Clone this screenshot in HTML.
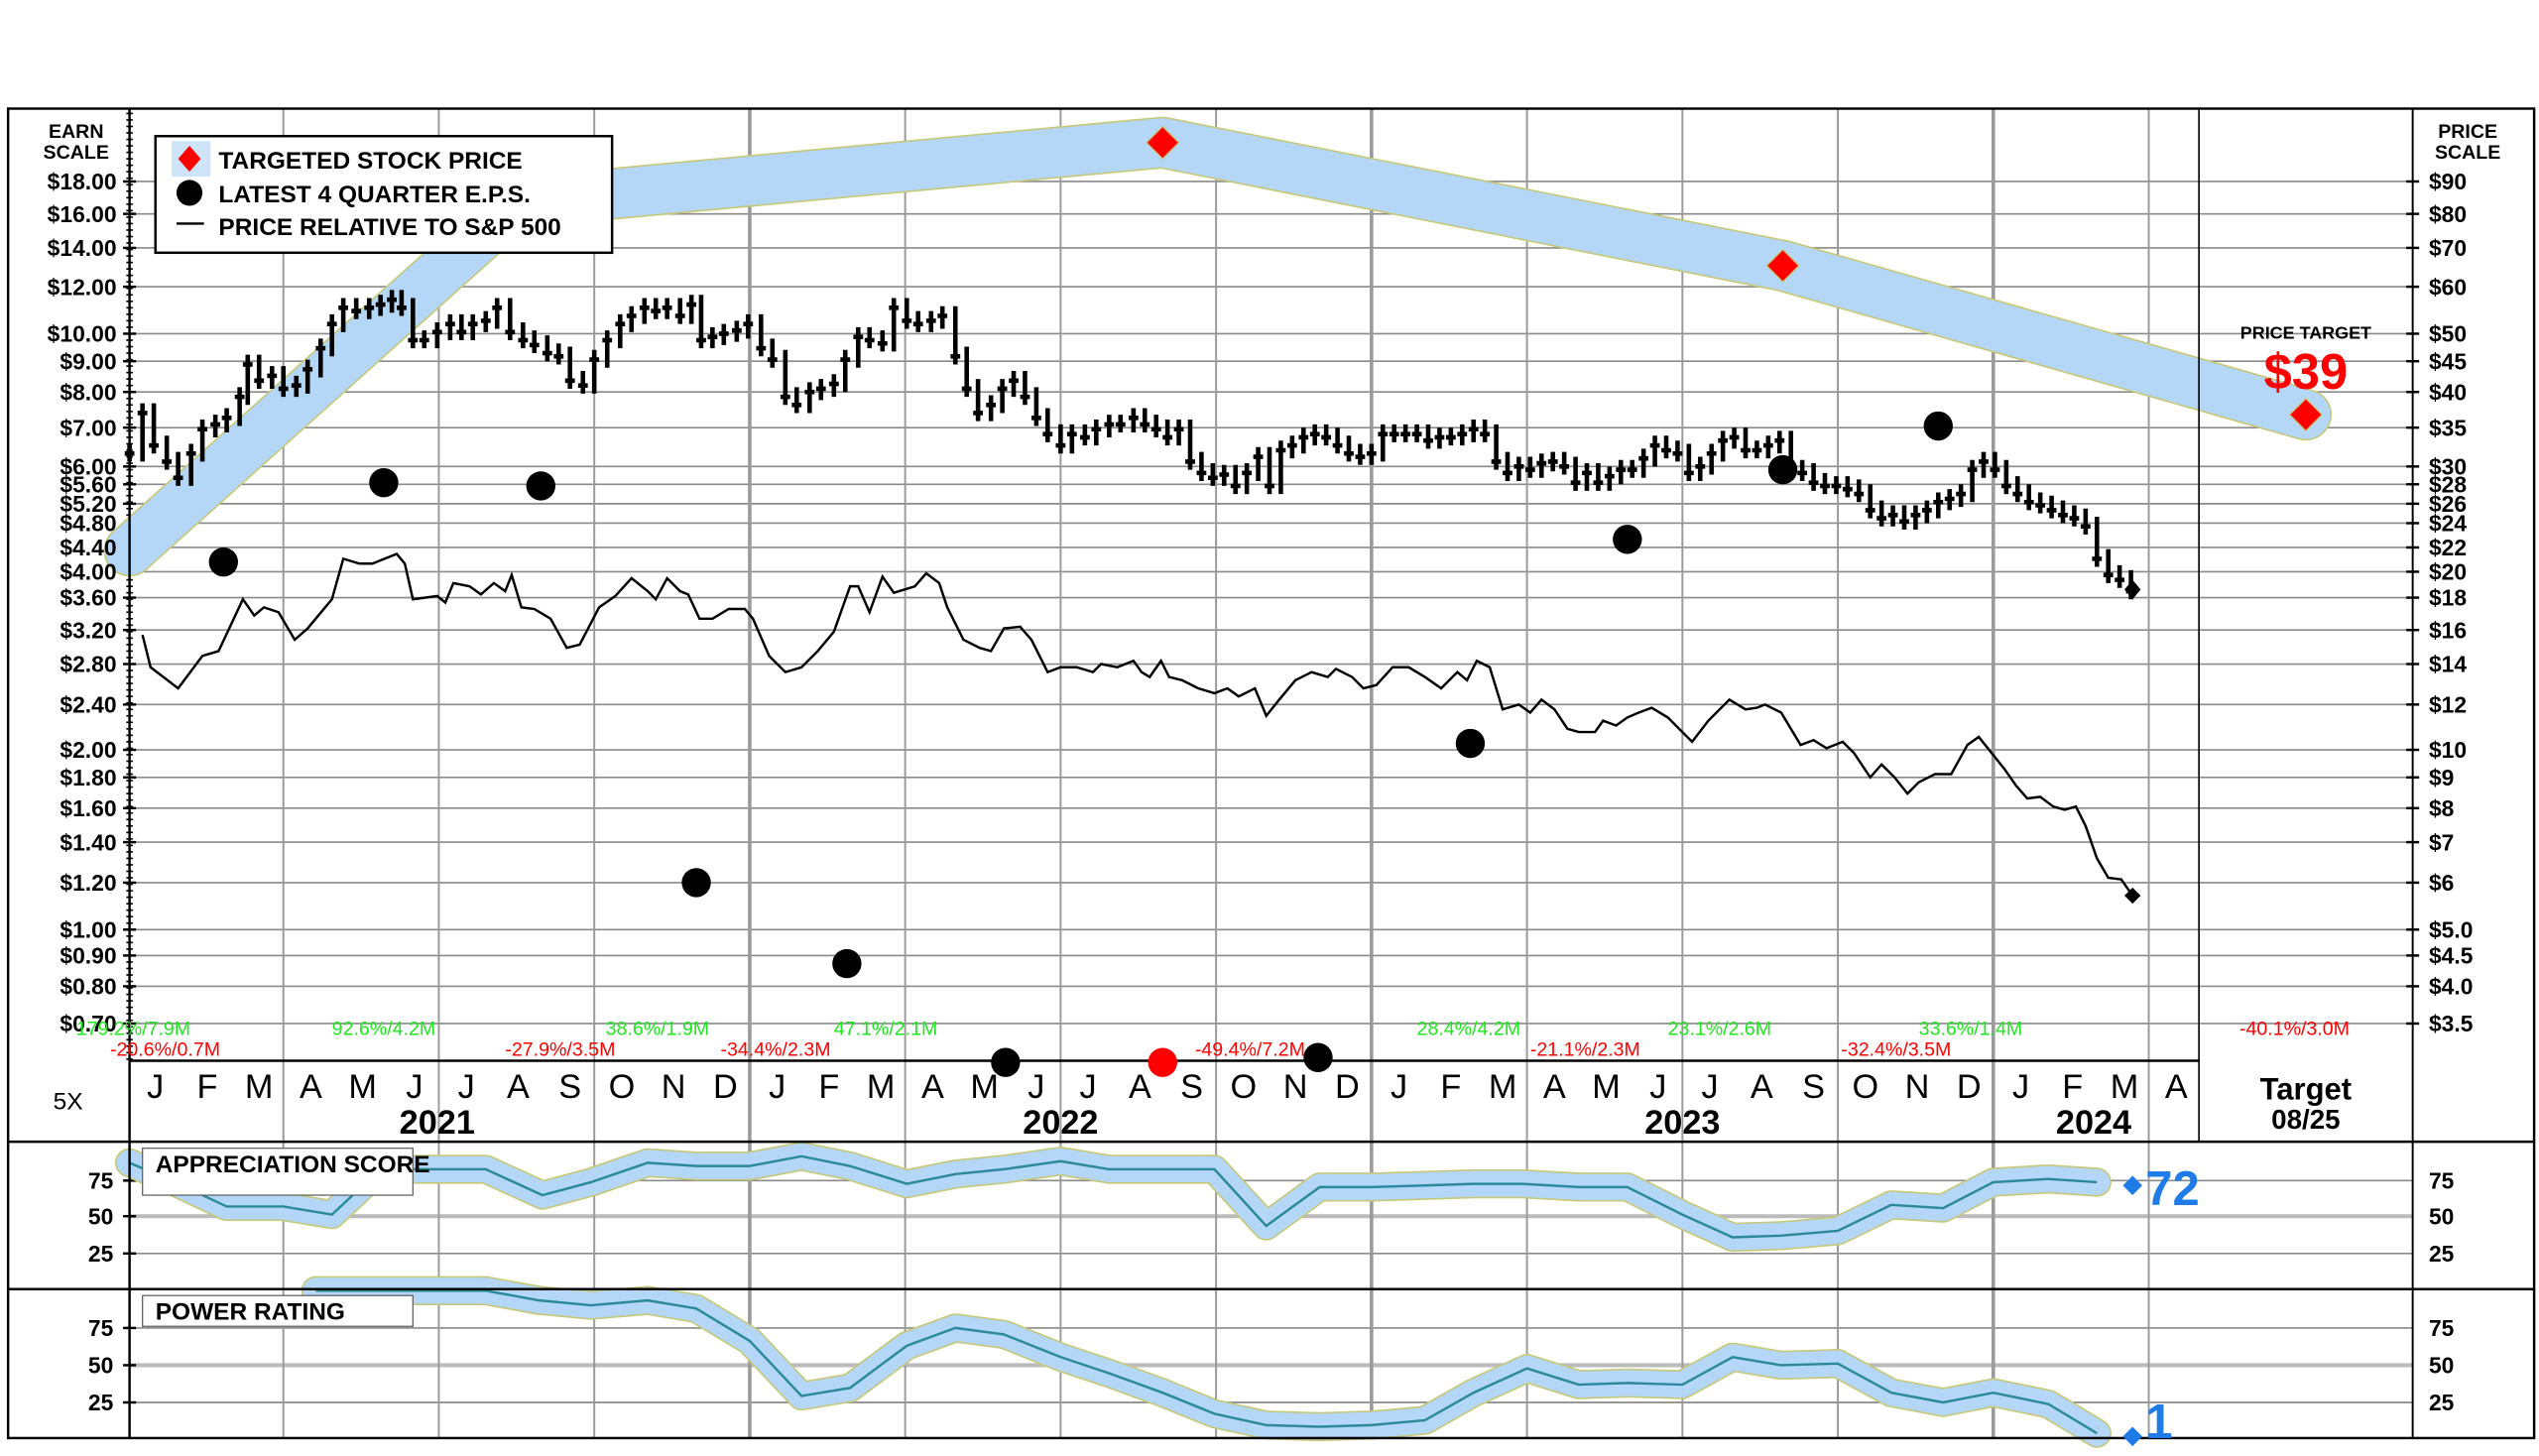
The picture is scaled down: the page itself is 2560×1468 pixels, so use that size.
<!DOCTYPE html>
<html><head><meta charset="utf-8"><style>
html,body{margin:0;padding:0;background:#fff}
svg{display:block}
text{font-family:"Liberation Sans",Arial,sans-serif}
.l{font-size:14px;font-weight:bold;text-anchor:end}
.r{font-size:14px;font-weight:bold;text-anchor:start}
.m{font-size:21px;text-anchor:middle}
.y{font-size:21px;font-weight:bold;text-anchor:middle}
.g{font-size:12px;fill:#1ee81e}
.rd{font-size:12px;fill:#f00}
</style></head><body>
<svg id="s" width="2560" height="1468" viewBox="0 0 1568 899" xmlns="http://www.w3.org/2000/svg">
<rect x="0" y="0" width="1568" height="899" fill="#fff"/>
<g id="grid"></g>
<g id="band"></g>
<g id="series"></g>
<rect x="5" y="67" width="1560" height="821" fill="none" stroke="#000" stroke-width="1.5"/>
<line x1="80" y1="67" x2="80" y2="888" stroke="#000" stroke-width="1.5"/>
<line x1="1490" y1="67" x2="1490" y2="888" stroke="#000" stroke-width="1.2"/>
<line x1="1358" y1="67" x2="1358" y2="705" stroke="#000" stroke-width="1"/>
<line x1="80" y1="655" x2="1358" y2="655" stroke="#000" stroke-width="1.5"/>
<line x1="5" y1="705" x2="1565" y2="705" stroke="#000" stroke-width="1.5"/>
<line x1="5" y1="796" x2="1565" y2="796" stroke="#000" stroke-width="1.5"/>

<text x="47" y="85" font-size="12" font-weight="bold" text-anchor="middle">EARN</text>
<text x="47" y="98" font-size="12" font-weight="bold" text-anchor="middle">SCALE</text>
<text x="1524" y="85" font-size="12" font-weight="bold" text-anchor="middle">PRICE</text>
<text x="1524" y="98" font-size="12" font-weight="bold" text-anchor="middle">SCALE</text>

<g class="l">
<text x="72" y="117">$18.00</text><text x="72" y="137">$16.00</text><text x="72" y="158">$14.00</text>
<text x="72" y="182">$12.00</text><text x="72" y="211">$10.00</text><text x="72" y="228">$9.00</text>
<text x="72" y="247">$8.00</text><text x="72" y="269">$7.00</text><text x="72" y="293">$6.00</text>
<text x="72" y="304">$5.60</text><text x="72" y="316">$5.20</text><text x="72" y="328">$4.80</text>
<text x="72" y="343">$4.40</text><text x="72" y="358">$4.00</text><text x="72" y="374">$3.60</text>
<text x="72" y="394">$3.20</text><text x="72" y="415">$2.80</text><text x="72" y="440">$2.40</text>
<text x="72" y="468">$2.00</text><text x="72" y="485">$1.80</text><text x="72" y="504">$1.60</text>
<text x="72" y="525">$1.40</text><text x="72" y="550">$1.20</text><text x="72" y="579">$1.00</text>
<text x="72" y="595">$0.90</text><text x="72" y="614">$0.80</text><text x="72" y="637">$0.70</text>
</g>
<g class="r">
<text x="1500" y="117">$90</text><text x="1500" y="137">$80</text><text x="1500" y="158">$70</text>
<text x="1500" y="182">$60</text><text x="1500" y="211">$50</text><text x="1500" y="228">$45</text>
<text x="1500" y="247">$40</text><text x="1500" y="269">$35</text><text x="1500" y="293">$30</text>
<text x="1500" y="304">$28</text><text x="1500" y="316">$26</text><text x="1500" y="328">$24</text>
<text x="1500" y="343">$22</text><text x="1500" y="358">$20</text><text x="1500" y="374">$18</text>
<text x="1500" y="394">$16</text><text x="1500" y="415">$14</text><text x="1500" y="440">$12</text>
<text x="1500" y="468">$10</text><text x="1500" y="485">$9</text><text x="1500" y="504">$8</text>
<text x="1500" y="525">$7</text><text x="1500" y="550">$6</text><text x="1500" y="579">$5.0</text>
<text x="1500" y="595">$4.5</text><text x="1500" y="614">$4.0</text><text x="1500" y="637">$3.5</text>
</g>

<g class="g">
<text x="47" y="639">179.2%/7.9M</text><text x="205" y="639">92.6%/4.2M</text><text x="374" y="639">38.6%/1.9M</text>
<text x="515" y="639">47.1%/2.1M</text><text x="875" y="639">28.4%/4.2M</text><text x="1030" y="639">23.1%/2.6M</text>
<text x="1185" y="639">33.6%/1.4M</text>
</g>
<g class="rd">
<text x="68" y="652">-20.6%/0.7M</text><text x="312" y="652">-27.9%/3.5M</text><text x="445" y="652">-34.4%/2.3M</text>
<text x="738" y="652">-49.4%/7.2M</text><text x="945" y="652">-21.1%/2.3M</text><text x="1137" y="652">-32.4%/3.5M</text>
<text x="1383" y="639">-40.1%/3.0M</text>
</g>

<g class="m">
<text x="96" y="678">J</text><text x="128" y="678">F</text><text x="160" y="678">M</text><text x="192" y="678">A</text>
<text x="224" y="678">M</text><text x="256" y="678">J</text><text x="288" y="678">J</text><text x="320" y="678">A</text>
<text x="352" y="678">S</text><text x="384" y="678">O</text><text x="416" y="678">N</text><text x="448" y="678">D</text>
<text x="480" y="678">J</text><text x="512" y="678">F</text><text x="544" y="678">M</text><text x="576" y="678">A</text>
<text x="608" y="678">M</text><text x="640" y="678">J</text><text x="672" y="678">J</text><text x="704" y="678">A</text>
<text x="736" y="678">S</text><text x="768" y="678">O</text><text x="800" y="678">N</text><text x="832" y="678">D</text>
<text x="864" y="678">J</text><text x="896" y="678">F</text><text x="928" y="678">M</text><text x="960" y="678">A</text>
<text x="992" y="678">M</text><text x="1024" y="678">J</text><text x="1056" y="678">J</text><text x="1088" y="678">A</text>
<text x="1120" y="678">S</text><text x="1152" y="678">O</text><text x="1184" y="678">N</text><text x="1216" y="678">D</text>
<text x="1248" y="678">J</text><text x="1280" y="678">F</text><text x="1312" y="678">M</text><text x="1344" y="678">A</text>
</g>
<g class="y">
<text x="270" y="700">2021</text><text x="655" y="700">2022</text><text x="1039" y="700">2023</text><text x="1293" y="700">2024</text>
</g>
<text x="1424" y="679" font-size="19" font-weight="bold" text-anchor="middle">Target</text>
<text x="1424" y="697" font-size="17" font-weight="bold" text-anchor="middle">08/25</text>
<text x="42" y="685" font-size="15" text-anchor="middle">5X</text>

<g font-size="14" font-weight="bold">
<text x="70" y="734" text-anchor="end">75</text><text x="70" y="756" text-anchor="end">50</text><text x="70" y="779" text-anchor="end">25</text>
<text x="70" y="825" text-anchor="end">75</text><text x="70" y="848" text-anchor="end">50</text><text x="70" y="871" text-anchor="end">25</text>
<text x="1500" y="734">75</text><text x="1500" y="756">50</text><text x="1500" y="779">25</text>
<text x="1500" y="825">75</text><text x="1500" y="848">50</text><text x="1500" y="871">25</text>
</g>

<g id="top"></g>

<rect x="88" y="709" width="167" height="29" fill="#fff" stroke="#666" stroke-width="0.8"/>
<text x="96" y="724" font-size="15" font-weight="bold">APPRECIATION SCORE</text>
<rect x="88" y="800" width="167" height="19" fill="#fff" stroke="#666" stroke-width="0.8"/>
<text x="96" y="815" font-size="15" font-weight="bold">POWER RATING</text>
<path d="M1317 726 L1323 732 L1317 738 L1311 732Z" fill="#1e7be8"/>
<text x="1325" y="744" font-size="30" font-weight="bold" fill="#1e7be8">72</text>
<path d="M1317 881 L1323 887 L1317 893 L1311 887Z" fill="#1e7be8"/>
<text x="1325" y="888" font-size="30" font-weight="bold" fill="#1e7be8">1</text>

<text x="1424" y="209" font-size="11" font-weight="bold" text-anchor="middle">PRICE TARGET</text>
<text x="1424" y="240" font-size="31" font-weight="bold" fill="#f00" text-anchor="middle">$39</text>

<rect x="96" y="84" width="282" height="72" fill="#fff" stroke="#000" stroke-width="1.5"/>
<rect x="106" y="87" width="24" height="22" fill="#cfe4f8"/>
<path d="M117 90 L124 98 L117 106 L110 98Z" fill="#f00"/>
<circle cx="117" cy="119" r="8" fill="#000"/>
<line x1="109" y1="138" x2="126" y2="138" stroke="#000" stroke-width="1.5"/>
<g font-size="15" font-weight="bold"><text x="135" y="104">TARGETED STOCK PRICE</text>
<text x="135" y="125">LATEST 4 QUARTER E.P.S.</text>
<text x="135" y="145">PRICE RELATIVE TO S&amp;P 500</text></g>
</svg>
<script>
const NS="http://www.w3.org/2000/svg";
function el(p,t,a){const e=document.createElementNS(NS,t);for(const k in a)e.setAttribute(k,a[k]);p.appendChild(e);return e;}
const G=document.getElementById('grid'),B=document.getElementById('band'),S=document.getElementById('series'),T=document.getElementById('top');
const hy=[112,132,153,177,206,223,242,264,288,299,311,323,338,353,369,389,410,435,463,480,499,520,545,574,590,609,632];
hy.forEach(y=>{el(G,'line',{x1:80,y1:y,x2:1490,y2:y,stroke:'#8a8a8a','stroke-width':1});
 el(G,'line',{x1:76,y1:y,x2:84,y2:y,stroke:'#000','stroke-width':1.5});el(G,'line',{x1:1486,y1:y,x2:1494,y2:y,stroke:'#000','stroke-width':1.5});});
for(let y=70;y<655;y+=4){el(G,'line',{x1:78,y1:y,x2:82,y2:y,stroke:'#000','stroke-width':1});}
[729,751,774,820,843,866].forEach((y,i)=>{el(G,'line',{x1:80,y1:y,x2:1490,y2:y,stroke:(i%3==1)?'#bbb':'#8a8a8a','stroke-width':(i%3==1)?2.5:1});
 el(G,'line',{x1:76,y1:y,x2:84,y2:y,stroke:'#000','stroke-width':1.5});});
[175,271,367,463,559,655,751,847,943,1039,1135,1231,1327].forEach(x=>{
 const w=(x==463||x==847||x==1231)?2.2:1.2;
 el(G,'line',{x1:x,y1:67,x2:x,y2:888,stroke:'#9a9a9a','stroke-width':w});});
function band(pts,w,par){const d=pts.map((p,i)=>(i?'L':'M')+p[0]+' '+p[1]).join(' ');
 el(par,'path',{d:d,fill:'none',stroke:'#c8c87a','stroke-width':w+2,'stroke-linejoin':'round','stroke-linecap':'round'});
 el(par,'path',{d:d,fill:'none',stroke:'#b4d7f7','stroke-width':w,'stroke-linejoin':'round','stroke-linecap':'round'});return d;}
band([[80,340],[320,125],[718,88],[1101,164],[1424,256]],30,B);
const ap=[[80,718],[108,730],[140,745],[175,745],[205,750],[235,722],[265,722],[300,722],[335,738],[365,730],[400,718],[430,720],[463,720],[495,714],[525,720],[560,731],[590,725],[620,722],[655,717],[685,722],[718,722],[750,722],[782,757],[815,733],[847,733],[880,732],[910,731],[940,731],[975,733],[1005,733],[1039,750],[1070,764],[1100,763],[1135,760],[1168,744],[1200,746],[1231,730],[1265,728],[1295,730]];
const pw=[[195,797],[230,797],[270,797],[300,797],[333,803],[365,806],[400,803],[430,808],[463,828],[495,862],[525,857],[560,831],[590,820],[620,824],[655,838],[685,848],[718,860],[750,873],[782,880],[815,881],[847,880],[880,877],[910,860],[943,845],[975,855],[1005,854],[1039,855],[1070,838],[1100,843],[1135,842],[1168,860],[1200,866],[1231,860],[1265,867],[1295,885]];
[ap,pw].forEach(p=>{const d=band(p,16,B);el(B,'path',{d:d,fill:'none',stroke:'#2a8a9a','stroke-width':1.5});});
const pr=[[80,280],[88,255],[95,275],[103,285],[110,295],[118,280],[125,265],[133,262],[140,258],[148,245],[153,225],[160,235],[168,232],[175,240],[183,238],[190,228],[198,215],[205,200],[212,190],[220,192],[228,190],[235,188],[242,185],[248,190],[255,210],[262,210],[270,205],[278,200],[285,205],[292,200],[300,198],[307,190],[315,205],[323,210],[330,213],[338,218],[345,220],[352,235],[360,238],[367,222],[375,210],[383,200],[390,195],[398,190],[405,192],[412,190],[420,195],[427,188],[433,210],[440,208],[447,206],[455,204],[462,200],[470,215],[477,222],[485,245],[492,250],[500,242],[507,240],[515,237],[522,222],[530,208],[537,210],[545,212],[552,190],[560,198],[567,200],[575,198],[582,195],[590,220],[597,240],[604,255],[612,250],[619,240],[626,235],[633,245],[640,258],[647,268],[655,275],[662,268],[670,270],[677,265],[685,262],[692,262],[700,258],[707,262],[714,265],[721,270],[728,265],[735,285],[742,292],[749,295],[756,293],[763,300],[770,292],[777,282],[784,300],[791,278],[798,275],[805,270],[812,268],[819,270],[826,275],[833,280],[840,282],[847,280],[854,268],[861,268],[868,268],[875,268],[882,272],[889,270],[896,270],[903,268],[910,265],[917,268],[924,285],[931,292],[938,288],[945,290],[952,286],[959,285],[966,288],[973,298],[980,292],[987,298],[994,294],[1001,290],[1008,290],[1015,283],[1022,275],[1029,278],[1036,280],[1043,292],[1050,288],[1057,280],[1064,272],[1071,270],[1078,278],[1085,278],[1092,275],[1099,272],[1106,290],[1113,292],[1120,298],[1127,300],[1134,300],[1141,302],[1148,305],[1155,315],[1162,320],[1169,318],[1176,322],[1183,318],[1190,315],[1197,310],[1204,308],[1211,305],[1218,290],[1225,285],[1232,290],[1239,300],[1246,305],[1253,310],[1260,312],[1267,315],[1274,318],[1281,320],[1288,325],[1295,345],[1302,355],[1309,358],[1316,365]];
let d='';pr.forEach((p,i)=>{const prev=i?pr[i-1][1]:p[1];const hi=Math.min(prev,p[1])-6,lo=Math.max(prev,p[1])+5;
 d+=`M${p[0]} ${hi}V${lo}M${p[0]-3} ${p[1]}H${p[0]+3}`;});
el(S,'path',{d:d,stroke:'#000','stroke-width':2.8,fill:'none'});
const rl=[[88,392],[93,412],[110,425],[125,405],[135,402],[150,370],[157,380],[163,375],[172,378],[182,395],[190,388],[205,370],[212,345],[222,348],[230,348],[245,342],[250,348],[255,370],[270,368],[275,372],[280,360],[290,362],[297,367],[305,360],[312,365],[316,355],[322,375],[330,376],[340,382],[350,400],[358,398],[370,375],[380,368],[390,357],[400,365],[405,370],[412,357],[420,365],[425,367],[432,382],[440,382],[450,376],[460,376],[465,382],[475,405],[485,415],[495,412],[505,402],[515,390],[525,362],[530,362],[537,378],[545,356],[552,366],[565,362],[572,354],[580,360],[585,375],[595,395],[605,400],[612,402],[620,388],[630,387],[637,395],[647,415],[655,412],[665,412],[675,415],[680,410],[690,412],[700,408],[705,415],[710,418],[717,408],[722,418],[730,420],[740,425],[750,428],[758,425],[765,430],[775,425],[782,442],[790,432],[800,420],[810,415],[820,418],[825,413],[835,418],[842,425],[850,423],[860,412],[870,412],[880,418],[890,425],[900,415],[906,420],[912,408],[920,412],[928,438],[938,435],[945,440],[952,432],[960,438],[968,450],[975,452],[985,452],[990,445],[998,448],[1005,443],[1012,440],[1020,437],[1030,443],[1040,453],[1045,458],[1055,445],[1068,432],[1078,438],[1085,437],[1090,435],[1100,440],[1112,460],[1120,457],[1128,462],[1138,458],[1145,465],[1155,480],[1162,472],[1170,480],[1178,490],[1185,483],[1195,478],[1205,478],[1215,460],[1222,455],[1230,465],[1238,475],[1245,485],[1252,493],[1260,492],[1268,498],[1275,500],[1282,498],[1288,510],[1295,530],[1302,542],[1310,543],[1317,553]];
el(S,'polyline',{points:rl.map(p=>p.join(',')).join(' '),fill:'none',stroke:'#000','stroke-width':1.5});
el(S,'path',{d:'M1317 548L1322 553L1317 558L1312 553Z',fill:'#000'});
el(S,'path',{d:'M1317 358L1322 364L1317 370L1312 364Z',fill:'#000'});
[[138,347],[237,298],[334,300],[430,545],[523,595],[621,656],[814,653],[908,459],[1005,333],[1101,290],[1197,263]].forEach(p=>el(T,'ellipse',{cx:p[0],cy:p[1],rx:9,ry:9,fill:'#000'}));
el(T,'ellipse',{cx:718,cy:656,rx:9,ry:9,fill:'#f00'});
[[718,88],[1101,164],[1424,256]].forEach(p=>el(T,'path',{d:`M${p[0]} ${p[1]-10}L${p[0]+10} ${p[1]}L${p[0]} ${p[1]+10}L${p[0]-10} ${p[1]}Z`,fill:'#f00',stroke:'#c8c87a','stroke-width':0.8}));
</script>
</body></html>
